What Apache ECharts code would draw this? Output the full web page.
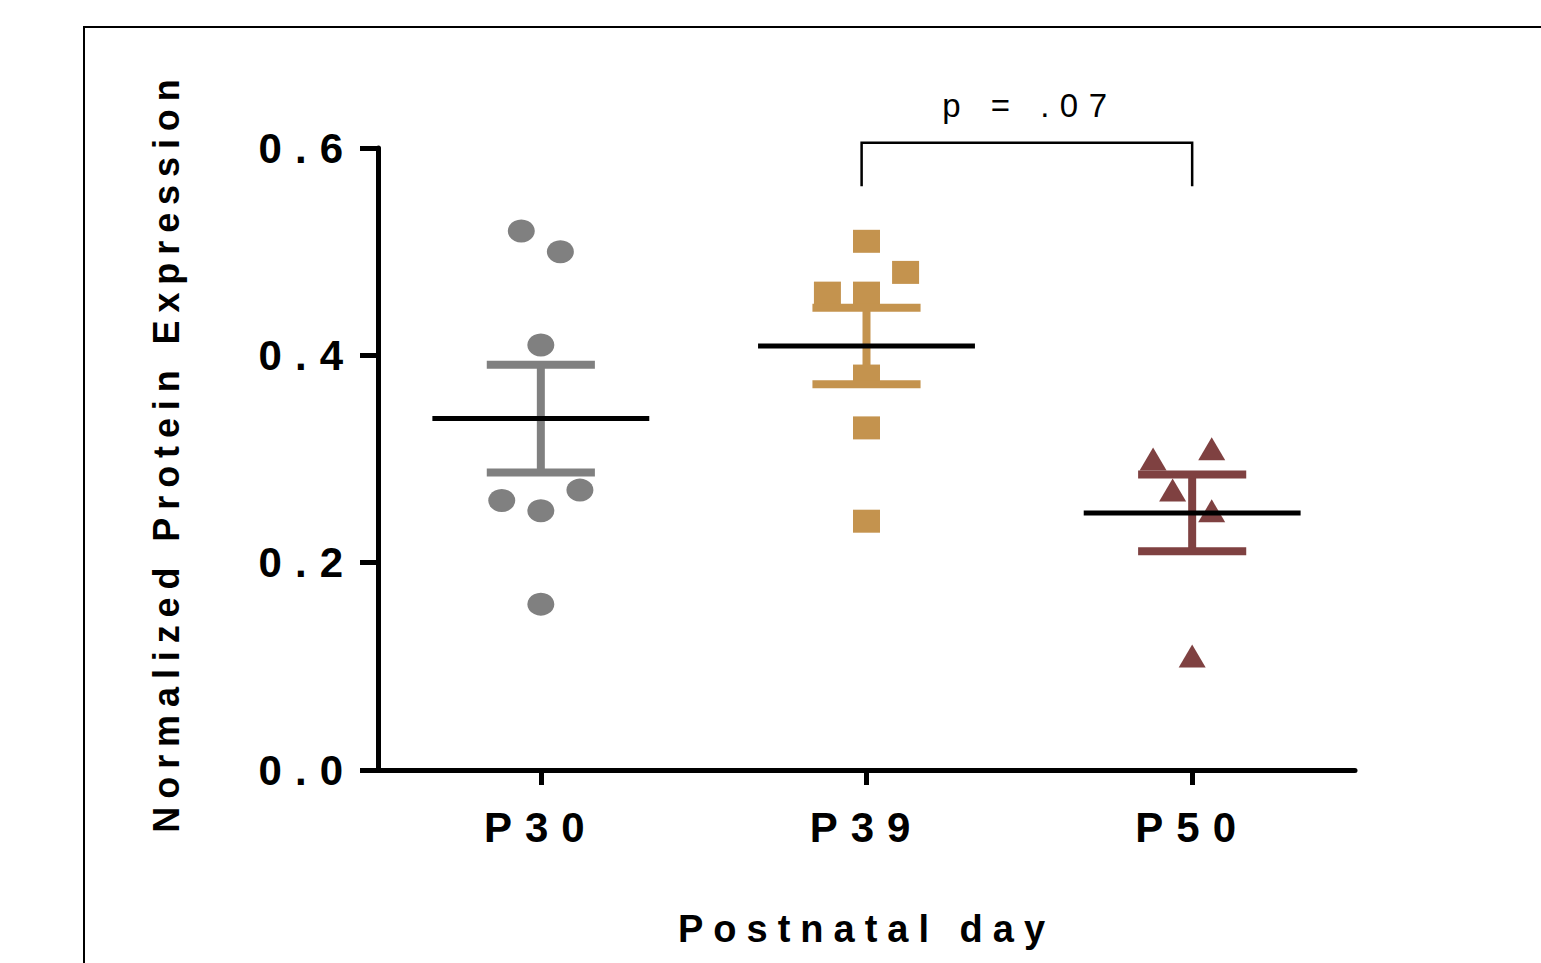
<!DOCTYPE html>
<html>
<head>
<meta charset="utf-8">
<script src="https://cdn.jsdelivr.net/npm/echarts@6/dist/echarts.min.js"></script>
<style>
html, body { margin: 0; padding: 0; background: #fff; }
#chart { width: 1541px; height: 963px; }
#chart text { letter-spacing: 10px; }
#chart text[style*="42px"] { letter-spacing: 13px; }
#chart text[style*="38px"] { letter-spacing: 10px; }
#chart text[style*="36px"] { letter-spacing: 7.9px; }
#chart text[style*="33px"] { letter-spacing: 10.5px; }
</style>
</head>
<body>
<div id="chart"></div>
<script>
// groups on the x axis
var categories = ['P30', 'P39', 'P50'];

// individual animals
var p30Values = [0.52, 0.50, 0.41, 0.26, 0.25, 0.27, 0.16];
var p30Jitter = [-0.06, 0.06, 0, -0.12, 0, 0.12, 0];
var p39Values = [0.51, 0.48, 0.46, 0.46, 0.38, 0.33, 0.24];
var p39Jitter = [0, 0.12, -0.12, 0, 0, 0, 0];
var p50Values = [0.30, 0.31, 0.27, 0.25, 0.11];
var p50Jitter = [-0.12, 0.06, -0.06, 0.06, 0];

// mean +/- SEM per group
var groupMeans = [0.339, 0.409, 0.248];
var groupSems = [0.052, 0.037, 0.037];

// comparison bracket P39 vs P50
var bracket = [[0.985, 2.0, 0.563, 0.605, 0.641]];
var bracketLabel = 'p = .07';

var groupColors = ['#808080', '#c4934e', '#7f4141'];
var FONT = 'Liberation Sans';

function points(values, jitter, idx) {
    var out = [];
    for (var i = 0; i < values.length; i++) {
        out.push([idx + jitter[i], values[i]]);
    }
    return out;
}

function renderMeanSem(params, api) {
    var x = api.value(0), m = api.value(1), s = api.value(2);
    var c = groupColors[params.dataIndex];
    var top = api.coord([x, m + s]), bot = api.coord([x, m - s]);
    var capTL = api.coord([x - 0.166, m + s]), capTR = api.coord([x + 0.166, m + s]);
    var capBL = api.coord([x - 0.166, m - s]), capBR = api.coord([x + 0.166, m - s]);
    var mL = api.coord([x - 0.333, m]), mR = api.coord([x + 0.333, m]);
    return {
        type: 'group',
        children: [
            { type: 'line', shape: { x1: top[0], y1: top[1], x2: bot[0], y2: bot[1] }, style: { stroke: c, lineWidth: 8 } },
            { type: 'line', shape: { x1: capTL[0], y1: capTL[1], x2: capTR[0], y2: capTR[1] }, style: { stroke: c, lineWidth: 8 } },
            { type: 'line', shape: { x1: capBL[0], y1: capBL[1], x2: capBR[0], y2: capBR[1] }, style: { stroke: c, lineWidth: 8 } },
            { type: 'line', shape: { x1: mL[0], y1: mL[1], x2: mR[0], y2: mR[1] }, style: { stroke: '#000', lineWidth: 5 } }
        ]
    };
}

function renderBracket(params, api) {
    var x1 = api.value(0), x2 = api.value(1), yLow = api.value(2), yHigh = api.value(3), yText = api.value(4);
    var a = api.coord([x1, yLow]), b = api.coord([x1, yHigh]);
    var c = api.coord([x2, yHigh]), d = api.coord([x2, yLow]);
    var t = api.coord([(x1 + x2) / 2, yText]);
    return {
        type: 'group',
        children: [
            { type: 'polyline', shape: { points: [a, b, c, d] }, style: { stroke: '#000', lineWidth: 2.5, fill: null } },
            { type: 'text', x: t[0] + 3, y: t[1], style: { text: bracketLabel, font: '33px ' + FONT, fill: '#000', align: 'center', verticalAlign: 'middle' } }
        ]
    };
}

var meanData = [];
for (var i = 0; i < categories.length; i++) {
    meanData.push([i, groupMeans[i], groupSems[i]]);
}

var chart = echarts.init(document.getElementById('chart'), null, { renderer: 'svg' });

var option = {
    animation: false,
    backgroundColor: '#fff',
    graphic: [{
        type: 'polyline',
        shape: { points: [[84, 975], [84, 27], [1550, 27]] },
        style: { stroke: '#000', lineWidth: 2, fill: null }
    }],
    grid: { left: 378, right: 186, top: 148, bottom: 193, outerBoundsMode: 'none' },
    xAxis: [{
        type: 'category',
        data: categories,
        boundaryGap: true,
        name: 'Postnatal day',
        nameLocation: 'middle',
        nameGap: 140,
        nameTextStyle: { fontFamily: FONT, fontWeight: 'bold', fontSize: 38, color: '#000' },
        axisLine: { onZero: false, lineStyle: { color: '#000', width: 5 } },
        axisTick: { show: true, interval: 0, alignWithLabel: true, length: 15, lineStyle: { color: '#000', width: 5 } },
        axisLabel: { margin: 36, fontFamily: FONT, fontWeight: 'bold', fontSize: 42, color: '#000' },
        splitLine: { show: false }
    }, {
        type: 'value',
        min: -0.5,
        max: 2.5,
        show: false
    }],
    yAxis: {
        type: 'value',
        min: 0,
        max: 0.6,
        interval: 0.2,
        name: 'Normalized Protein Expression',
        nameLocation: 'middle',
        nameGap: 194,
        nameTextStyle: { fontFamily: FONT, fontWeight: 'bold', fontSize: 36, color: '#000', padding: [0, 0, 0, 14] },
        axisLine: { show: true, onZero: false, lineStyle: { color: '#000', width: 5 } },
        axisTick: { show: true, length: 18, lineStyle: { color: '#000', width: 5 } },
        axisLabel: {
            margin: 22,
            fontFamily: FONT, fontWeight: 'bold', fontSize: 42, color: '#000',
            formatter: function (v) { return v.toFixed(1); }
        },
        splitLine: { show: false }
    },
    series: [{
        type: 'scatter',
        xAxisIndex: 1,
        symbol: 'circle',
        symbolSize: [27, 23],
        itemStyle: { color: groupColors[0], opacity: 1 },
        data: points(p30Values, p30Jitter, 0)
    }, {
        type: 'scatter',
        xAxisIndex: 1,
        symbol: 'rect',
        symbolSize: [27, 23],
        itemStyle: { color: groupColors[1], opacity: 1 },
        data: points(p39Values, p39Jitter, 1)
    }, {
        type: 'scatter',
        xAxisIndex: 1,
        symbol: 'triangle',
        symbolSize: [27, 23],
        itemStyle: { color: groupColors[2], opacity: 1 },
        data: points(p50Values, p50Jitter, 2)
    }, {
        type: 'custom',
        xAxisIndex: 1,
        renderItem: renderMeanSem,
        data: meanData,
        z: 3
    }, {
        type: 'custom',
        xAxisIndex: 1,
        renderItem: renderBracket,
        clip: false,
        data: bracket,
        z: 3
    }]
};

chart.setOption(option);
</script>
</body>
</html>
